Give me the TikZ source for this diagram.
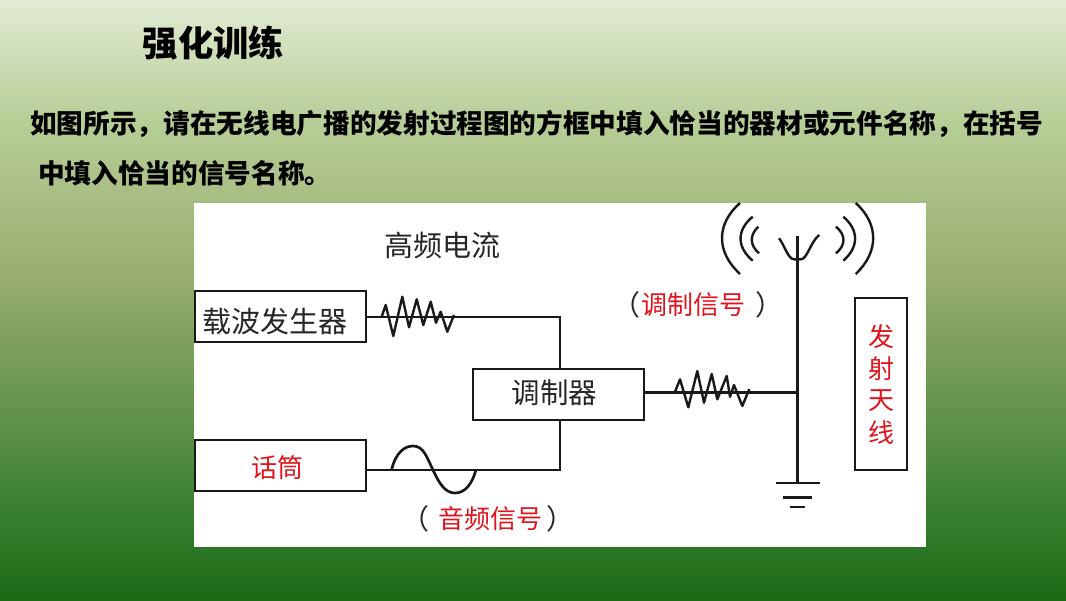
\documentclass[tikz,border=0pt]{standalone}
\usepackage{fontspec}
\setmainfont{Noto Sans CJK SC}
\definecolor{redtxt}{HTML}{E0141C}
\definecolor{c0}{HTML}{E2EBD4}
\definecolor{c1}{HTML}{B7CE97}
\definecolor{c2}{HTML}{9AAE70}
\definecolor{c3}{HTML}{669550}
\definecolor{c5}{HTML}{327C2A}
\definecolor{c4}{HTML}{1A6A16}
\pgfdeclareverticalshading{bggrad}{100bp}{
 color(0bp)=(c4);color(25bp)=(c4);color(31bp)=(c5);color(41.5bp)=(c3);color(52.5bp)=(c2);color(65bp)=(c1);color(75bp)=(c0);color(100bp)=(c0)}
\newcommand{\fsz}[1]{\fontsize{\dimexpr #1pt*3/4\relax}{\dimexpr #1pt\relax}\selectfont}
\tikzset{
 x=0.75pt,y=-0.75pt,
 wire/.style={line width=2pt,black!90,line join=miter},
 thinwire/.style={line width=1.8pt,black!90,line join=round},
 devbox/.style={draw=black!90,line width=1.7pt,fill=white,inner sep=0pt,anchor=north west},
 lab/.style={inner sep=0pt,text=black!85,font=\fsz{29}},
 redlab/.style={inner sep=0pt,text=redtxt,font=\fsz{26}},
 paren/.style={inner sep=0pt,text=black!85,font=\fsz{28}},
 head/.style={inner sep=0pt,text=black,font=\bfseries\fsz{26.65}},
}
\begin{document}
\begin{tikzpicture}
\useasboundingbox (0,0) rectangle (1066,600);
\shade[shading=bggrad] (0,0) rectangle (1066,600);
\node[head,font=\bfseries\fsz{35.3}] (title) at (213.5,43) {强化训练};
\node[head,anchor=west] (line1) at (30,124) {如图所示，请在无线电广播的发射过程图的方框中填入恰当的器材或元件名称，在括号};
\node[head,anchor=west] (line2) at (38,173) {中填入恰当的信号名称。};
\fill[white] (194,203) rectangle (926,547);
% boxes
\node[devbox,minimum width=128.25pt,minimum height=38.25pt] (carrier) at (193.5,289.5) {};
\node[devbox,minimum width=128.25pt,minimum height=38.25pt] (mic) at (193.5,438.5) {};
\node[devbox,minimum width=128.25pt,minimum height=38.25pt] (mod) at (471.5,367.5) {};
\node[devbox,minimum width=39pt,minimum height=129pt] (ant) at (853.5,296.5) {};
% wires
\coordinate (top) at (797.5,236);
\coordinate (gnd) at (797.5,483);
\coordinate (g1l) at (776,483); \coordinate (g1r) at (820,483);
\coordinate (g2l) at (783,497.5); \coordinate (g2r) at (812,497.5);
\coordinate (g3l) at (790,507); \coordinate (g3r) at (805,507);
\coordinate (junc) at (797.5,392.5);
\coordinate (c1) at (560,317);
\coordinate (c2) at (560,470);
\draw[wire] (carrier.east |- c1) -- (c1) -- (c1 |- mod.north);
\draw[wire] (mic.east |- c2) -- (c2) -- (c2 |- mod.south);
\draw[thinwire] (mod.east |- junc) -- (junc);
\draw[wire] (top) -- (gnd);
\draw[wire] (g1l) -- (g1r);
\draw[thinwire] (g2l) -- (g2r);
\draw[wire] (g3l) -- (g3r);
% resistors
\draw[thinwire] (381.7,316.7)--(385.7,305)--(393.3,336)--(402.3,296.7)--(409,327.3)--(416.7,299.3)--(423.3,325)--(430.7,301.7)--(436,322.7)--(440.7,311.7)--(447.3,331.7)--(454,315);
\draw[thinwire] (675,391.7)--(680,379.3)--(688.3,407.3)--(697.3,371)--(704,402.7)--(711.7,374)--(717.3,399.3)--(726.7,376)--(730,396.7)--(734,385)--(742.3,406)--(749.3,389);
% sine
\draw[wire] (391.7,469.3) .. controls (396,452) and (405,446) .. (413,446) .. controls (424,446) and (427,458) .. (433,470) .. controls (439,483) and (445,493) .. (455,493) .. controls (465,493) and (472,484) .. (475.7,470.7);
% antenna
\draw[thinwire] (779,238.3) .. controls (784,244) and (788,259.3) .. (794,259.3) -- (801,259.3) .. controls (807,259.3) and (811,241) .. (819.3,235);
\draw[thinwire] (740,203) .. controls (716,224) and (716,252) .. (740,274);
\draw[thinwire] (752.7,216.7) .. controls (736.5,230) and (736.5,247) .. (752.7,260.7);
\draw[thinwire] (758.3,226.7) .. controls (749.5,235) and (749.5,245) .. (759,253.3);
\draw[thinwire] (855.7,203) .. controls (879,224) and (879,252) .. (855.7,274);
\draw[thinwire] (843.3,216.7) .. controls (859,230) and (859,247) .. (843.3,260.7);
\draw[thinwire] (836,226.7) .. controls (846,235) and (846,245) .. (836,253.3);
% labels
\node[lab] (hf) at (442,245.5) {高频电流};
\node[lab] (carriertxt) at (274.5,321) {载波发生器};
\node[lab,font=\fsz{28.5}] (modtxt) at (554.5,393) {调制器};
\node[redlab] (mictxt) at (277.5,468) {话筒};
\node[redlab] (audio) at (490,519) {音频信号};
\node[paren] (alp) at (415,519) {（};
\node[paren] (arp) at (560,519) {）};
\node[redlab] (modsig) at (693,305) {调制信号};
\node[paren] (lp) at (626,305) {（};
\node[paren] (rp) at (769,305) {）};
\node[redlab] (a1) at (881,337) {发};
\node[redlab] (a2) at (881,369) {射};
\node[redlab] (a3) at (881,401) {天};
\node[redlab] (a4) at (881,433) {线};
\end{tikzpicture}
\end{document}
